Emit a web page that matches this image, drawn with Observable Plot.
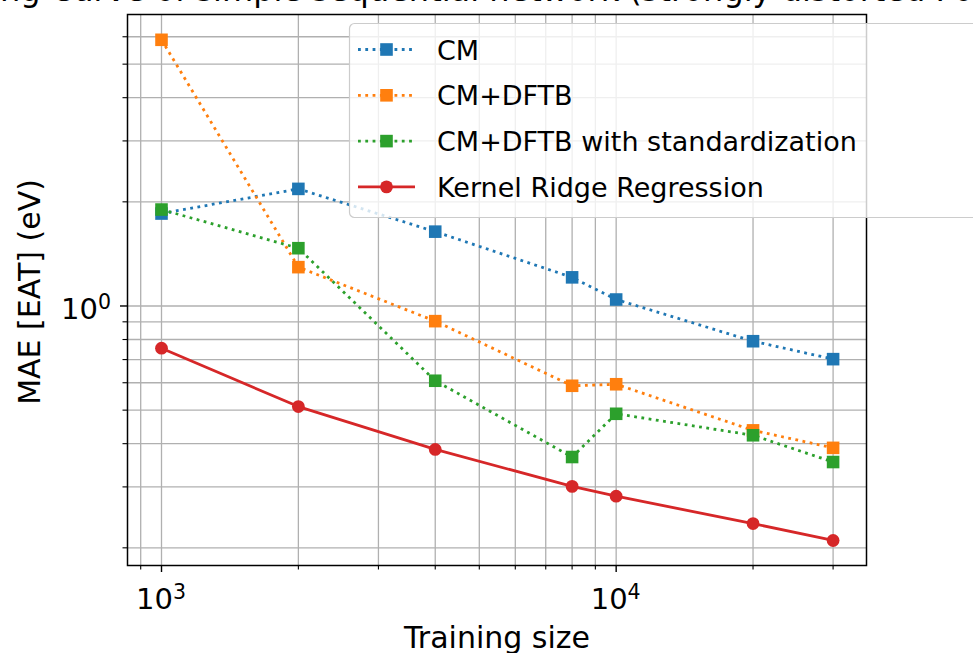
<!DOCTYPE html>
<html><head><meta charset="utf-8">
<script src="https://cdn.jsdelivr.net/npm/d3@7"></script>
<script src="https://cdn.jsdelivr.net/npm/@observablehq/plot@0.6"></script>
<style>
html,body{margin:0;padding:0;background:#fff;overflow:hidden;}
#chart{position:relative;width:973px;height:653px;overflow:hidden;}
#chart svg{display:block;}
</style></head><body><div id="chart"></div>
<script>
// ---- data ----
const sizes = [1000, 2000, 4000, 8000, 10000, 20000, 30000];
const cm = [1.85, 2.18, 1.64, 1.21, 1.044, 0.791, 0.702];
const cmDftb = [5.88, 1.295, 0.904, 0.588, 0.594, 0.437, 0.389];
const cmDftbStd = [1.90, 1.469, 0.608, 0.366, 0.488, 0.423, 0.354];
const krr = [0.755, 0.512, 0.385, 0.301, 0.282, 0.235, 0.210];
const seriesNames = ["CM", "CM+DFTB", "CM+DFTB with standardization", "Kernel Ridge Regression"];
const seriesValues = [cm, cmDftb, cmDftbStd, krr];
const seriesColors = ["#1f77b4", "#ff7f0e", "#2ca02c", "#d62728"];
const seriesSymbols = ["square", "square", "square", "circle"];
const seriesDotted = [true, true, true, false];
const xMajorTicks = [1000, 10000];
const xMajorExp = ["3", "4"];
const xMinorTicks = [900, 2000, 3000, 4000, 5000, 6000, 7000, 8000, 9000, 20000, 30000];
const yMajorTicks = [1];
const yMajorExp = ["0"];
const yMinorTicks = [0.2, 0.3, 0.4, 0.5, 0.6, 0.7, 0.8, 0.9, 2, 3, 4, 5, 6];
const title = "Learning Curve of simple sequential network (strongly distorted Polymers)";
const xLabel = "Training size";
const yLabel = "MAE [EAT] (eV)";

// ---- build table ----
const rows = [];
seriesNames.forEach((name, s) => {
  sizes.forEach((x, i) => rows.push({series: name, s, x, y: seriesValues[s][i]}));
});

const FONT = "DejaVu Sans";
const marks = [
  Plot.gridX([...xMinorTicks, ...xMajorTicks], {stroke: "#b0b0b0", strokeOpacity: 1, strokeWidth: 1.3}),
  Plot.gridY([...yMinorTicks, ...yMajorTicks], {stroke: "#b0b0b0", strokeOpacity: 1, strokeWidth: 1.3}),
];
seriesNames.forEach((name, s) => {
  const d = rows.filter(r => r.s === s);
  marks.push(Plot.line(d, {x: "x", y: "y", stroke: seriesColors[s], strokeWidth: 2.8,
    strokeDasharray: seriesDotted[s] ? "2.8,4.5" : null, strokeLinecap: "butt"}));
  marks.push(Plot.dot(d, {x: "x", y: "y", fill: seriesColors[s], stroke: "none",
    symbol: seriesSymbols[s], r: seriesSymbols[s] === "square" ? 7.1 : 6.4}));
});
marks.push(
  Plot.frame({stroke: "black", strokeWidth: 1.5}),
  Plot.axisX(xMajorTicks, {tickSize: 7, strokeWidth: 1.4, tickFormat: () => "", label: null}),
  Plot.axisX(xMinorTicks, {tickSize: 4.5, strokeWidth: 1.1, tickFormat: () => "", label: null}),
  Plot.axisY(yMajorTicks, {tickSize: 7, strokeWidth: 1.4, tickFormat: () => "", label: null}),
  Plot.axisY(yMinorTicks, {tickSize: 4.5, strokeWidth: 1.1, tickFormat: () => "", label: null}),
  Plot.text([xLabel], {frameAnchor: "bottom", dy: 82, fontSize: 30, lineAnchor: "bottom", textAnchor: "middle", fill: "black"}),
  Plot.text([yLabel], {frameAnchor: "left", dx: -88, dy: 2, rotate: -90, fontSize: 30, lineAnchor: "bottom", textAnchor: "middle", fill: "black"}),
  Plot.text([title], {frameAnchor: "top", dx: 1, dy: -14, fontSize: 32, lineAnchor: "bottom", textAnchor: "middle", fill: "black"})
);

const plot = Plot.plot({
  width: 973, height: 653,
  marginLeft: 127, marginRight: 107, marginTop: 14, marginBottom: 88,
  style: {fontFamily: FONT, background: "white", overflow: "visible"},
  x: {type: "log", domain: [841.8, 35530], axis: null},
  y: {type: "log", domain: [0.1778, 6.958], axis: null},
  marks
});
document.getElementById("chart").appendChild(plot);

const svg = d3.select(plot);
const xs = plot.scale("x"), ys = plot.scale("y");

// tick labels with superscripts
const tl = svg.append("g").attr("font-family", FONT).attr("fill", "black");
xMajorTicks.forEach((t, i) => {
  const tx = tl.append("text").attr("x", xs.apply(t)).attr("y", 609)
    .attr("text-anchor", "middle").attr("font-size", 29);
  tx.append("tspan").text("10");
  tx.append("tspan").attr("font-size", 20.5).attr("dy", -10).text(xMajorExp[i]);
});
yMajorTicks.forEach((t, i) => {
  const ty = tl.append("text").attr("x", 111).attr("y", ys.apply(t) + 14)
    .attr("text-anchor", "end").attr("font-size", 29);
  ty.append("tspan").text("10");
  ty.append("tspan").attr("font-size", 20.5).attr("dy", -10).text(yMajorExp[i]);
});

// legend
const lg = svg.append("g").attr("font-family", FONT).attr("text-anchor", "start");
lg.append("rect").attr("x", 349.5).attr("y", 23.5).attr("width", 700).attr("height", 194)
  .attr("rx", 5).attr("fill", "white").attr("fill-opacity", 0.8)
  .attr("stroke", "#cccccc").attr("stroke-width", 1.2);
seriesNames.forEach((name, s) => {
  const cy = 49.5 + s * 45.8;
  lg.append("line").attr("x1", 358).attr("x2", 415).attr("y1", cy).attr("y2", cy)
    .attr("stroke", seriesColors[s]).attr("stroke-width", 2.8)
    .attr("stroke-dasharray", seriesDotted[s] ? "2.8,4.5" : null);
  if (seriesSymbols[s] === "square") {
    lg.append("rect").attr("x", 386.5 - 6.3).attr("y", cy - 6.3).attr("width", 12.6).attr("height", 12.6)
      .attr("fill", seriesColors[s]);
  } else {
    lg.append("circle").attr("cx", 386.5).attr("cy", cy).attr("r", 6.4).attr("fill", seriesColors[s]);
  }
  lg.append("text").attr("x", 437).attr("y", cy + 10).attr("font-size", 27)
    .attr("text-anchor", "start").attr("fill", "black").text(name);
});
</script>
</body></html>
